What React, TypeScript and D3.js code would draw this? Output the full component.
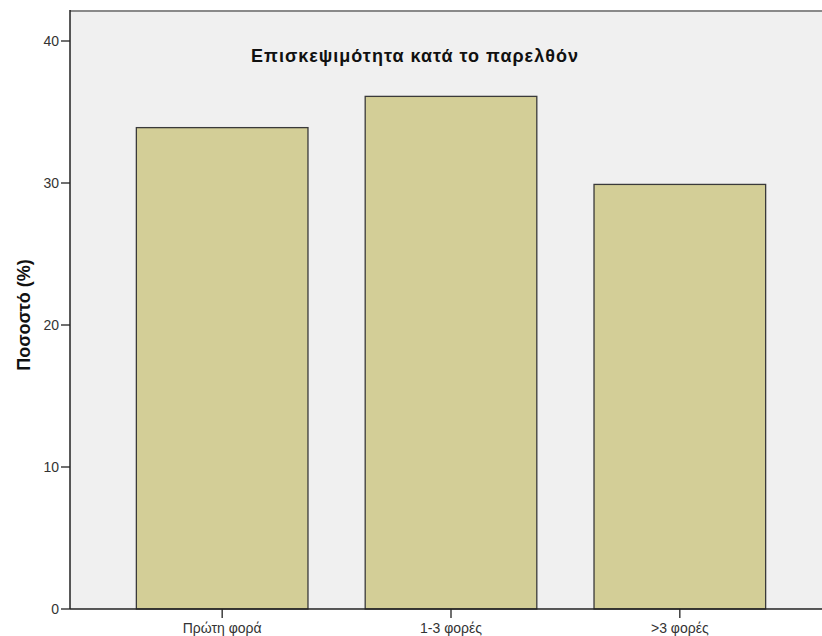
import React from "react";
import * as d3 from "d3";

const categories = ["Πρώτη φορά", "1-3 φορές", ">3 φορές"];
const values = [33.9, 36.1, 29.9];
const yTicks = [0, 10, 20, 30, 40];
const title = "Επισκεψιμότητα κατά το παρελθόν";
const yLabel = "Ποσοστό (%)";

export default function App() {
  const W = 822, H = 636;
  const left = 70, top = 10, bottom = 609;
  const x = d3.scaleBand<string>().domain(categories).range([left, 832]).paddingInner(0.25).paddingOuter(0.29);
  const y = d3.scaleLinear().domain([0, 40]).range([bottom, bottom - 4 * 142]);
  const font = "Arial, 'Liberation Sans', sans-serif";
  return (
    <svg width={W} height={H} style={{ position: "absolute", left: 0, top: 0, background: "#fff" }}>
      <rect x={left} y={top} width={W - left} height={bottom - top} fill="#f0f0f0" />
      <line x1={left} x2={W} y1={top + 1} y2={top + 1} stroke="#8a8a8a" strokeWidth={2} />
      {categories.map((c, i) => (
        <rect key={c} x={x(c)!} y={y(values[i])} width={x.bandwidth()} height={bottom - y(values[i])}
          fill="#d3ce97" stroke="#3a3a3a" strokeWidth={1.3} />
      ))}
      <line x1={left} x2={left} y1={top} y2={bottom} stroke="#222" strokeWidth={1.5} />
      <line x1={left} x2={W} y1={bottom} y2={bottom} stroke="#222" strokeWidth={1.5} />
      {yTicks.map((t) => (
        <g key={t}>
          <line x1={left - 9} x2={left} y1={y(t)} y2={y(t)} stroke="#222" strokeWidth={1.3} />
          <text x={left - 11} y={y(t)} dy="0.35em" textAnchor="end" fontFamily={font} fontSize={14} fill="#333">{t}</text>
        </g>
      ))}
      {categories.map((c) => {
        const cx = x(c)! + x.bandwidth() / 2;
        return (
          <g key={c}>
            <line x1={cx} x2={cx} y1={bottom} y2={bottom + 9} stroke="#222" strokeWidth={1.3} />
            <text x={cx} y={bottom + 24} textAnchor="middle" fontFamily={font} fontSize={14} fill="#333">{c}</text>
          </g>
        );
      })}
      <text x={415} y={62} textAnchor="middle" fontFamily={font} fontSize={18} fontWeight="bold" letterSpacing={1} fill="#111">{title}</text>
      <text transform={`translate(30, 315) rotate(-90)`} textAnchor="middle" fontFamily={font} fontSize={18} fontWeight="bold" fill="#111">{yLabel}</text>
    </svg>
  );
}
